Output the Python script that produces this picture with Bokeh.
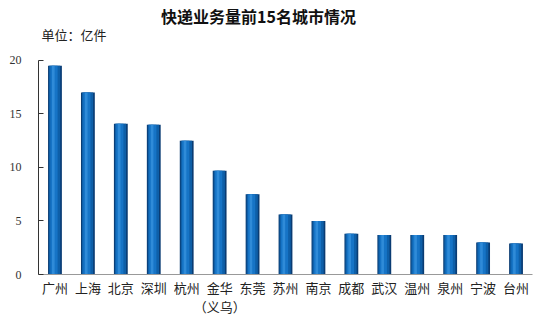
from bokeh.plotting import figure
from bokeh.models import Range1d, ColumnDataSource, FixedTicker, Label
from bokeh.embed import file_html
from bokeh.resources import INLINE

cities = ["广州", "上海", "北京", "深圳", "杭州", "金华\n（义乌）", "东莞", "苏州",
          "南京", "成都", "武汉", "温州", "泉州", "宁波", "台州"]
volumes = [19.5, 17.0, 14.1, 14.0, 12.5, 9.7, 7.5, 5.6, 5.0, 3.8, 3.7, 3.7, 3.7, 3.0, 2.9]
y_ticks = [0, 5, 10, 15, 20]
title_text = "快递业务量前15名城市情况"
unit_text = "单位：亿件"

idx = list(range(len(cities)))

# frame reaches near the canvas top so the titles sit inside it; axis line bounded to 0..20
p = figure(width=542, height=319, x_range=Range1d(-0.5, len(cities) - 0.5), y_range=Range1d(0, 25.14),
           output_backend="svg", toolbar_location=None,
           min_border_left=38, min_border_right=10, min_border_top=5, min_border_bottom=45)
p.title.visible = False
p.outline_line_color = None
p.background_fill_color = "#ffffff"
p.border_fill_color = "#ffffff"
p.xgrid.grid_line_color = None
p.ygrid.grid_line_color = None

# cylinder-like bars: layered vbars (same data, narrower lighter layers)
layers = [(0.0, 0.42, "#0a3c73"), (-0.01, 0.34, "#0e5fa8"), (-0.03, 0.22, "#1674c6"), (-0.05, 0.08, "#2f8bd8")]
for off, w, col in layers:
    s = ColumnDataSource(dict(x=[i + off for i in idx], v=volumes))
    p.vbar(x="x", top="v", width=w, source=s, color=col, line_color=None)

p.yaxis.ticker = y_ticks
p.yaxis.bounds = (y_ticks[0], y_ticks[-1])
p.yaxis.axis_line_color = "#333333"
p.yaxis.major_tick_line_color = "#333333"
p.yaxis.major_tick_in = 5
p.yaxis.major_tick_out = 0
p.yaxis.minor_tick_line_color = None
p.yaxis.major_label_text_font = "Liberation Serif"
p.yaxis.major_label_text_font_size = "12px"
p.yaxis.major_label_text_color = "#333333"
p.yaxis.major_label_standoff = 17

p.xaxis.ticker = FixedTicker(ticks=idx)
p.xaxis.major_label_overrides = {i: c for i, c in enumerate(cities)}
p.xaxis.axis_line_color = "#999999"
p.xaxis.major_tick_line_color = None
p.xaxis.major_tick_in = 0
p.xaxis.major_tick_out = 0
p.xaxis.minor_tick_line_color = None
p.xaxis.major_label_text_font = "Noto Sans CJK SC"
p.xaxis.major_label_text_font_size = "13px"
p.xaxis.major_label_text_line_height = 1.0
p.xaxis.major_label_text_color = "#222222"
p.xaxis.major_label_standoff = 3

p.add_layout(Label(x=220, y=259, x_units="screen", y_units="screen", text=title_text,
                   text_align="center", text_baseline="middle", text_font="Noto Sans CJK SC",
                   text_font_size="16px", text_font_style="bold", text_color="#111111"))
p.add_layout(Label(x=3, y=240, x_units="screen", y_units="screen", text=unit_text,
                   text_align="left", text_baseline="middle", text_font="Noto Sans CJK SC",
                   text_font_size="13px", text_color="#222222"))

open("out.html", "w").write(file_html(p, INLINE))
